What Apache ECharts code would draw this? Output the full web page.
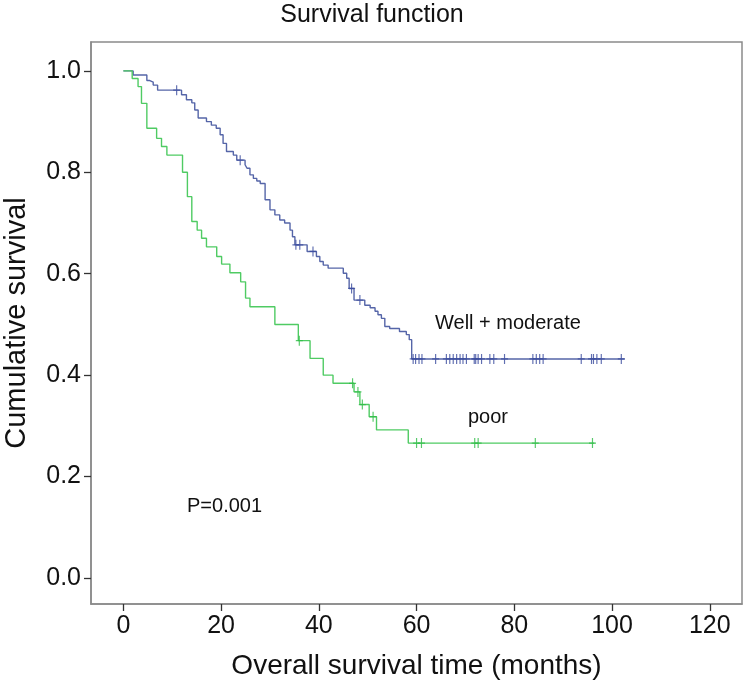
<!DOCTYPE html>
<html>
<head>
<meta charset="utf-8">
<script src="https://cdn.jsdelivr.net/npm/echarts@6/dist/echarts.min.js"></script>
<style>
html,body{margin:0;padding:0;background:#fff;}
#chart{width:744px;height:688px;}
</style>
</head>
<body>
<div id="chart"></div>
<script>
// ---- Data ----
const wellTime = [0, 2.0, 4.8, 5.4, 6.1, 7.0, 11.9, 12.9, 14.0, 14.6, 15.3, 17.0, 18.0, 19.0, 19.8, 20.4, 21.1, 22.5, 23.2, 24.9, 25.3, 25.9, 26.6, 27.3, 28.0, 29.0, 30.0, 31.0, 32.0, 33.0, 34.1, 34.6, 35.1, 37.6, 39.5, 40.2, 40.9, 41.9, 45.0, 45.7, 46.2, 47.2, 49.4, 50.5, 51.5, 52.1, 52.8, 53.5, 54.5, 56.5, 57.9, 58.5, 59.0, 102.6];
const wellSurv = [1.0, 0.992, 0.981, 0.978, 0.972, 0.962, 0.953, 0.943, 0.937, 0.923, 0.907, 0.900, 0.893, 0.887, 0.874, 0.857, 0.841, 0.834, 0.824, 0.815, 0.808, 0.795, 0.788, 0.783, 0.778, 0.746, 0.726, 0.716, 0.706, 0.700, 0.686, 0.673, 0.657, 0.644, 0.634, 0.624, 0.617, 0.611, 0.601, 0.591, 0.571, 0.548, 0.538, 0.533, 0.526, 0.519, 0.512, 0.496, 0.492, 0.486, 0.480, 0.470, 0.432, 0.432];
const wellCensTime = [10.9, 23.9, 35.3, 36.1, 38.8, 46.7, 48.4, 59.3, 59.8, 60.5, 61.1, 63.9, 66.1, 66.8, 67.5, 68.2, 68.9, 69.5, 70.2, 71.8, 72.1, 72.6, 73.3, 75.0, 75.8, 78.0, 83.8, 84.5, 85.2, 85.9, 93.7, 95.8, 96.2, 96.9, 97.8, 101.9];
const wellCensSurv = [0.962, 0.824, 0.657, 0.657, 0.644, 0.571, 0.548, 0.432, 0.432, 0.432, 0.432, 0.432, 0.432, 0.432, 0.432, 0.432, 0.432, 0.432, 0.432, 0.432, 0.432, 0.432, 0.432, 0.432, 0.432, 0.432, 0.432, 0.432, 0.432, 0.432, 0.432, 0.432, 0.432, 0.432, 0.432, 0.432];

const poorTime = [0, 1.8, 3.0, 3.7, 4.8, 6.8, 7.8, 8.9, 12.1, 13.1, 14.0, 15.1, 16.0, 17.0, 19.1, 20.1, 21.8, 24.0, 25.0, 25.9, 31.0, 35.8, 38.2, 40.9, 42.9, 47.2, 48.4, 50.3, 51.8, 58.3, 96.4];
const poorSurv = [1.0, 0.985, 0.969, 0.936, 0.887, 0.867, 0.851, 0.834, 0.800, 0.752, 0.703, 0.686, 0.670, 0.653, 0.634, 0.619, 0.602, 0.584, 0.552, 0.535, 0.500, 0.468, 0.433, 0.400, 0.384, 0.367, 0.342, 0.318, 0.292, 0.266, 0.266];
const poorCensTime = [36.0, 46.9, 48.0, 48.9, 51.1, 60.0, 61.0, 71.9, 72.6, 84.3, 96.0];
const poorCensSurv = [0.468, 0.384, 0.367, 0.342, 0.318, 0.266, 0.266, 0.266, 0.266, 0.266, 0.266];

const xTicks = [0, 20, 40, 60, 80, 100, 120];
const yTicks = [0, 0.2, 0.4, 0.6, 0.8, 1.0];

const titleText = 'Survival function';
const xName = 'Overall survival time (months)';
const yName = 'Cumulative survival';
const wellLabel = 'Well + moderate';
const poorLabel = 'poor';
const pLabel = 'P=0.001';

// ---- Build ----
const zip = (a, b) => a.map((v, i) => [v, b[i]]);
const FONT = '"Liberation Sans", Arial, Helvetica, sans-serif';
const plus = 'path://M-0.5,-4 L0.5,-4 L0.5,-0.5 L3,-0.5 L3,0.5 L0.5,0.5 L0.5,4 L-0.5,4 L-0.5,0.5 L-3,0.5 L-3,-0.5 L-0.5,-0.5 Z';

const chart = echarts.init(document.getElementById('chart'), null, {renderer: 'canvas'});
chart.setOption({
  animation: false,
  backgroundColor: '#fff',
  title: {
    text: titleText, left: 'center', top: -2,
    textStyle: {fontFamily: FONT, fontSize: 25, fontWeight: 'normal', color: '#111'}
  },
  grid: {left: 91, top: 42, right: 2, bottom: 84, show: true, borderColor: '#8a8a8a', borderWidth: 1.5,
    backgroundColor: '#fff', containLabel: false, outerBoundsMode: 'none'},
  xAxis: {
    type: 'value', min: -6.63, max: 126.6,
    name: xName, nameLocation: 'middle', nameGap: 48,
    nameTextStyle: {fontFamily: FONT, fontSize: 28, color: '#111'},
    axisLine: {show: true, onZero: false, lineStyle: {color: '#8a8a8a', width: 1.5}},
    axisTick: {show: true, length: 7, customValues: xTicks, lineStyle: {color: '#333', width: 1.3}},
    axisLabel: {customValues: xTicks, margin: 10, fontFamily: FONT, fontSize: 25, color: '#111'},
    splitLine: {show: false}
  },
  yAxis: {
    type: 'value', min: -0.0513, max: 1.057,
    name: yName, nameLocation: 'middle', nameGap: 60, nameRotate: 90,
    nameTextStyle: {fontFamily: FONT, fontSize: 29, color: '#111'},
    axisLine: {show: true, onZero: false, lineStyle: {color: '#8a8a8a', width: 1.5}},
    axisTick: {show: true, length: 7, customValues: yTicks, lineStyle: {color: '#333', width: 1.3}},
    axisLabel: {customValues: yTicks, margin: 10, fontFamily: FONT, fontSize: 25, color: '#111',
      formatter: v => v.toFixed(1)},
    splitLine: {show: false}
  },
  series: [
    {type: 'line', step: 'end', data: zip(wellTime, wellSurv), showSymbol: false,
      lineStyle: {color: '#5565a8', width: 1.4}, z: 3},
    {type: 'line', step: 'end', data: zip(poorTime, poorSurv), showSymbol: false,
      lineStyle: {color: '#4fcb63', width: 1.4}, z: 3},
    {type: 'scatter', data: zip(wellCensTime, wellCensSurv), symbol: plus, symbolSize: [7, 10],
      itemStyle: {color: '#3a4b9e'}, z: 4},
    {type: 'scatter', data: zip(poorCensTime, poorCensSurv), symbol: plus, symbolSize: [7, 10],
      itemStyle: {color: '#2dbb45'}, z: 4}
  ],
  graphic: [
    {type: 'text', left: 435, top: 313, style: {text: wellLabel, font: '20px ' + FONT, fill: '#111'}},
    {type: 'text', left: 468, top: 407, style: {text: poorLabel, font: '20px ' + FONT, fill: '#111'}},
    {type: 'text', left: 187, top: 496, style: {text: pLabel, font: '20px ' + FONT, fill: '#111'}}
  ]
});
</script>
</body>
</html>
